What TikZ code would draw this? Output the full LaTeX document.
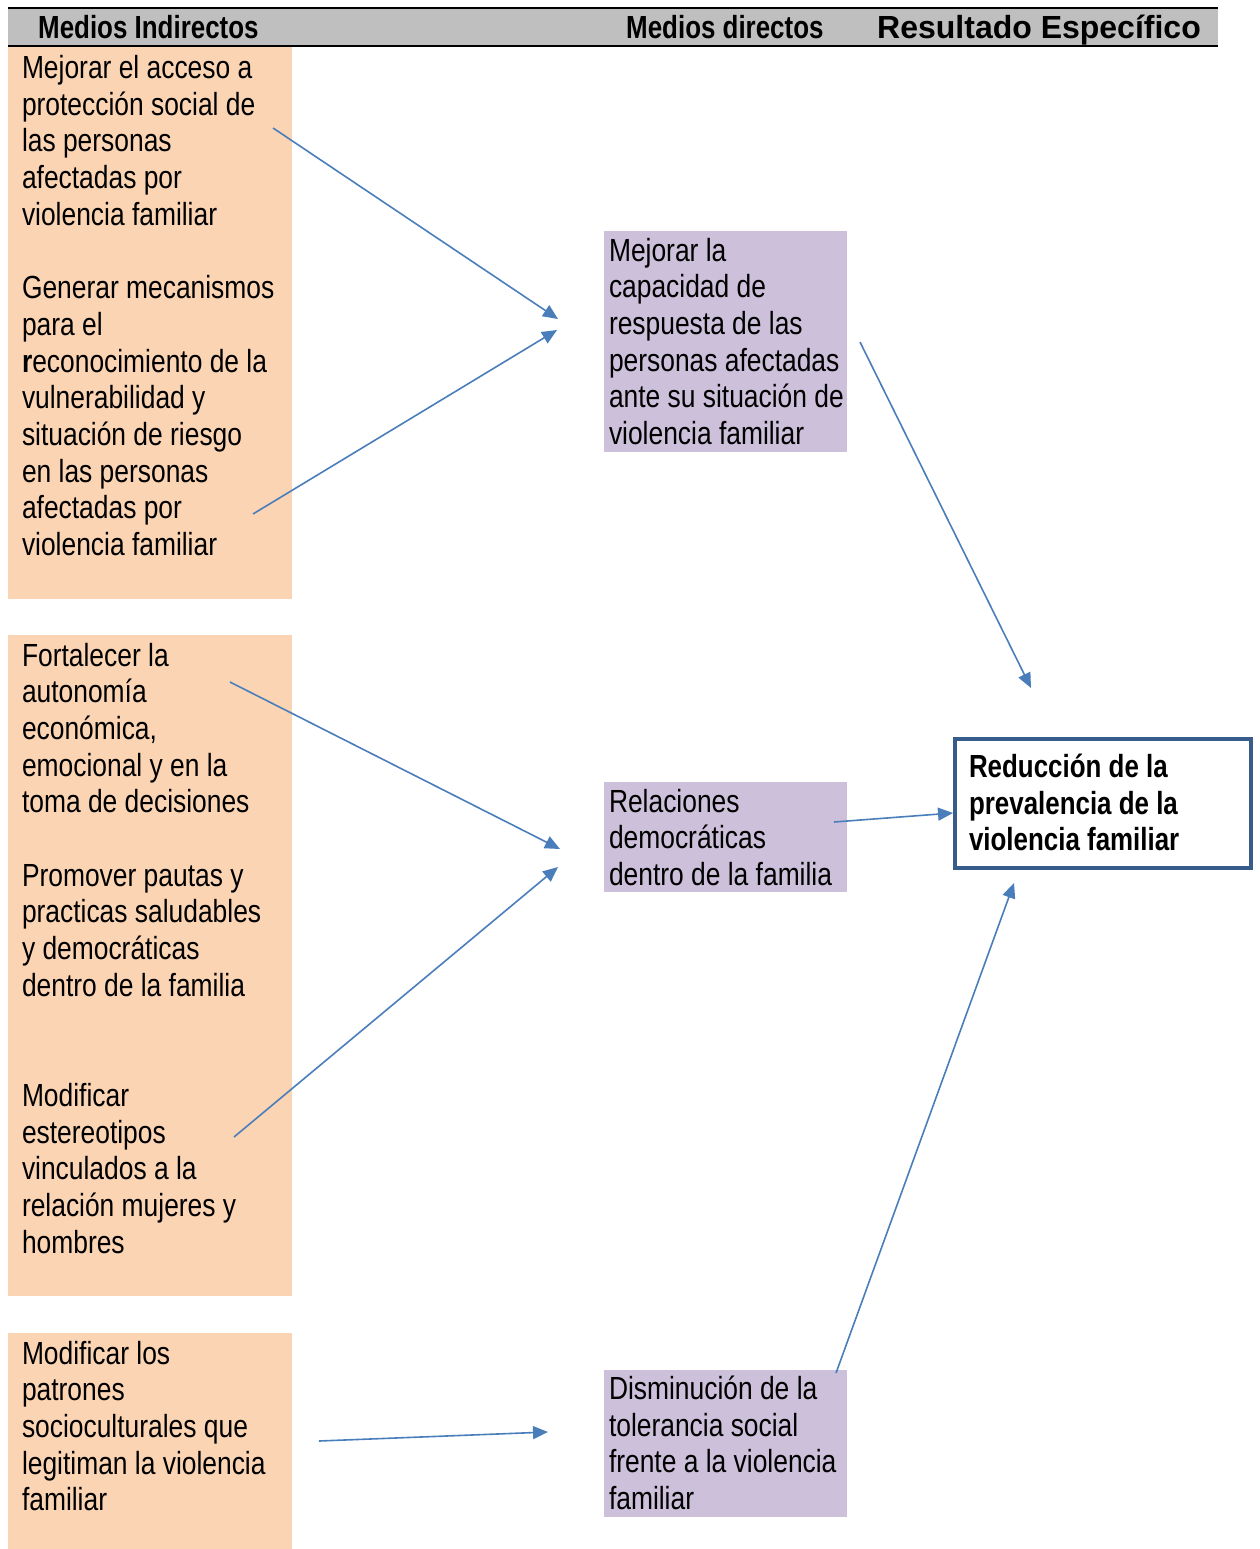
\documentclass[tikz,border=0pt]{standalone}
\usepackage{fontspec}
\setmainfont[FakeStretch=0.825]{Liberation Sans}
\newfontfamily\widefont{Liberation Sans}
\newfontfamily\boxfont[FakeStretch=0.81]{Liberation Sans}
\usetikzlibrary{arrows.meta}
\definecolor{orangefill}{HTML}{FBD4B4}
\definecolor{purplefill}{HTML}{CCC0DA}
\definecolor{headgray}{HTML}{BFBFBF}
\definecolor{arrowblue}{HTML}{4A7EBB}
\definecolor{resblue}{HTML}{385D8A}
\tikzset{
  orangebox/.style={fill=orangefill, draw=none, anchor=north west, inner sep=0pt},
  purplebox/.style={fill=purplefill, draw=none, anchor=north west, inner sep=0pt},
  txt/.style={anchor=base west, inner sep=0pt, outer sep=0pt,
    font=\fontsize{32}{36.7}\selectfont},
  headtxt/.style={anchor=base west, inner sep=0pt, font=\fontsize{32}{36.7}\boxfont\bfseries},
  arr/.style={draw=arrowblue, line width=1.6pt, -{Triangle[length=15pt,width=13pt]}},
  resbox/.style={draw=resblue, line width=4pt, fill=white, anchor=north west, inner sep=0pt}
}
\newcommand{\blocktext}[1]{\begin{minipage}[t]{330pt}\fontsize{32}{36.7}\selectfont #1\end{minipage}}
\begin{document}
\begin{tikzpicture}[x=1pt,y=-1pt]
\useasboundingbox (0,0) rectangle (1260,1549);
% header
\fill[headgray] (8,8) rectangle (1218,46);
\draw[line width=2pt] (8,8) -- (1218,8);
\draw[line width=2pt] (8,46) -- (1218,46);
\node[headtxt] (h1) at (38,38.5) {Medios Indirectos};
\node[headtxt] (h2) at (626,38.5) {Medios directos};
\node[headtxt, font=\fontsize{32}{36.7}\widefont\bfseries] (h3) at (877,38.5) {Resultado Específico};
% orange boxes
\node[orangebox, minimum width=284pt, minimum height=552pt] (o1) at (8,47) {};
\node[orangebox, minimum width=284pt, minimum height=661pt] (o2) at (8,635) {};
\node[orangebox, minimum width=284pt, minimum height=216pt] (o3) at (8,1333) {};
% purple boxes
\node[purplebox, minimum width=243pt, minimum height=221pt] (p1) at (604,231) {};
\node[purplebox, minimum width=243pt, minimum height=110pt] (p2) at (604,782) {};
\node[purplebox, minimum width=243pt, minimum height=147pt] (p3) at (604,1370) {};
% result box
\node[resbox, minimum width=296pt, minimum height=129pt] (r) at (953,737) {};
% texts
\node[txt] (t1) at (22,78.5) {\blocktext{Mejorar el acceso a\\protección social de\\las personas\\afectadas por\\violencia familiar\\~\\Generar mecanismos\\para el\\\textbf{r}econocimiento de la\\vulnerabilidad y\\situación de riesgo\\en las personas\\afectadas por\\violencia familiar}};
\node[txt] (t2) at (22,666) {\blocktext{Fortalecer la\\autonomía\\económica,\\emocional y en la\\toma de decisiones\\~\\Promover pautas y\\practicas saludables\\y democráticas\\dentro de la familia\\~\\~\\Modificar\\estereotipos\\vinculados a la\\relación mujeres y\\hombres}};
\node[txt] (t3) at (22,1364) {\blocktext{Modificar los\\patrones\\socioculturales que\\legitiman la violencia\\familiar}};
\node[txt] (t4) at (609,261) {\blocktext{Mejorar la\\capacidad de\\respuesta de las\\personas afectadas\\ante su situación de\\violencia familiar}};
\node[txt] (t5) at (609,812) {\blocktext{Relaciones\\democráticas\\dentro de la familia}};
\node[txt] (t6) at (609,1399.5) {\blocktext{Disminución de la\\tolerancia social\\frente a la violencia\\familiar}};
\node[txt] (t7) at (969,777.5) {\blocktext{\boxfont\bfseries Reducción de la\\prevalencia de la\\violencia familiar}};
% arrow endpoints
\coordinate (a1s) at (273,128);  \coordinate (a1e) at (558,319);
\coordinate (a2s) at (253,514);  \coordinate (a2e) at (557,330);
\coordinate (a3s) at (230,682);  \coordinate (a3e) at (560,849);
\coordinate (a4s) at (234,1137); \coordinate (a4e) at (558,867);
\coordinate (a5s) at (319,1441); \coordinate (a5e) at (548,1432);
\coordinate (a6s) at (860,342);  \coordinate (a6e) at (1031,688);
\coordinate (a7s) at (834,822);  \coordinate (a7e) at (953,813);
\coordinate (a8s) at (836,1373); \coordinate (a8e) at (1014,883);
\draw[arr] (a1s) -- (a1e);
\draw[arr] (a2s) -- (a2e);
\draw[arr] (a3s) -- (a3e);
\draw[arr] (a4s) -- (a4e);
\draw[arr] (a5s) -- (a5e);
\draw[arr] (a6s) -- (a6e);
\draw[arr] (a7s) -- (a7e);
\draw[arr] (a8s) -- (a8e);
\end{tikzpicture}
\end{document}
